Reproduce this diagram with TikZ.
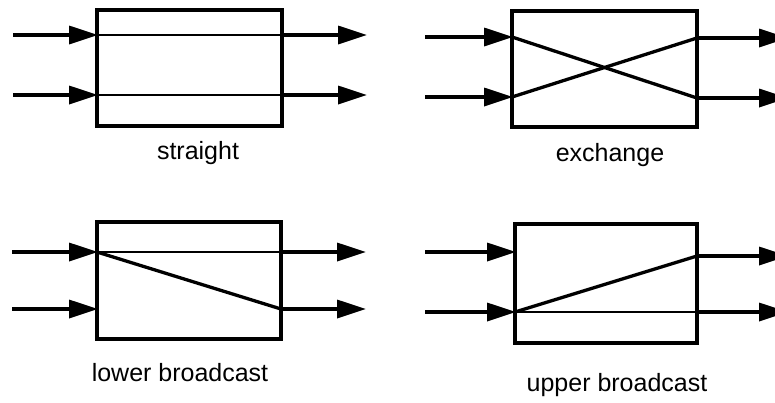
\documentclass[tikz,border=0pt]{standalone}
\usepackage{fontspec}
\setmainfont{Liberation Sans}
\usetikzlibrary{arrows.meta}
\begin{document}
\begin{tikzpicture}[x=1pt,y=-1pt,
  box/.style={draw, line width=3.4pt, inner sep=0pt, outer sep=0pt},
  arr/.style={line width=3.4pt, -{Triangle[length=29pt,width=18pt]}, shorten >=-1pt},
  wirethin/.style={line width=2.2pt},
  wirethick/.style={line width=3.3pt},
  lbl/.style={font=\fontsize{25}{29}\selectfont, inner sep=0pt}]
\useasboundingbox (0,0) rectangle (775,402);
\clip (0,0) rectangle (775,402);
% ---------- straight ----------
\node[box, minimum width=185pt, minimum height=116pt] (b1) at (189.5,68) {};
\coordinate (s1) at (13,35);  \coordinate (s2) at (13,95);
\coordinate (l1a) at (97,35); \coordinate (l1b) at (97,95);
\coordinate (r1a) at (282,35); \coordinate (r1b) at (282,95);
\coordinate (t1a) at (366,35); \coordinate (t1b) at (366,95);
\draw[arr] (s1) -- (l1a);
\draw[arr] (s2) -- (l1b);
\draw[wirethin] (l1a) -- (r1a);
\draw[wirethin] (l1b) -- (r1b);
\draw[arr] (r1a) -- (t1a);
\draw[arr] (r1b) -- (t1b);
\node[lbl] (n1) at (198,153) {straight};
% ---------- exchange ----------
\node[box, minimum width=185pt, minimum height=116pt] (b2) at (604.5,69) {};
\coordinate (s3) at (425,37);  \coordinate (s4) at (425,97);
\coordinate (l2a) at (512,37); \coordinate (l2b) at (512,97);
\coordinate (r2a) at (697,38); \coordinate (r2b) at (697,98);
\coordinate (t2a) at (787,38); \coordinate (t2b) at (787,98);
\draw[arr] (s3) -- (l2a);
\draw[arr] (s4) -- (l2b);
\draw[wirethick] (l2a) -- (r2b);
\draw[wirethick] (l2b) -- (r2a);
\draw[arr] (r2a) -- (t2a);
\draw[arr] (r2b) -- (t2b);
\node[lbl] (n2) at (610,155) {exchange};
% ---------- lower broadcast ----------
\node[box, minimum width=184pt, minimum height=117pt] (b3) at (189,280.5) {};
\coordinate (s5) at (12,252);  \coordinate (s6) at (12,309);
\coordinate (l3a) at (97,252); \coordinate (l3b) at (97,309);
\coordinate (r3a) at (281,252); \coordinate (r3b) at (281,309);
\coordinate (t3a) at (365,252); \coordinate (t3b) at (365,309);
\draw[arr] (s5) -- (l3a);
\draw[arr] (s6) -- (l3b);
\draw[wirethin] (l3a) -- (r3a);
\draw[wirethick] (l3a) -- (r3b);
\draw[arr] (r3a) -- (t3a);
\draw[arr] (r3b) -- (t3b);
\node[lbl] (n3) at (180,373) {lower broadcast};
% ---------- upper broadcast ----------
\node[box, minimum width=182pt, minimum height=119pt] (b4) at (606,283.5) {};
\coordinate (s7) at (425,252);  \coordinate (s8) at (425,312);
\coordinate (l4a) at (515,252); \coordinate (l4b) at (515,312);
\coordinate (r4a) at (697,256); \coordinate (r4b) at (697,312);
\coordinate (t4a) at (787,256); \coordinate (t4b) at (787,312);
\draw[arr] (s7) -- (l4a);
\draw[arr] (s8) -- (l4b);
\draw[wirethin] (l4b) -- (r4b);
\draw[wirethick] (l4b) -- (r4a);
\draw[arr] (r4a) -- (t4a);
\draw[arr] (r4b) -- (t4b);
\node[lbl] (n4) at (617,385) {upper broadcast};
\end{tikzpicture}
\end{document}
